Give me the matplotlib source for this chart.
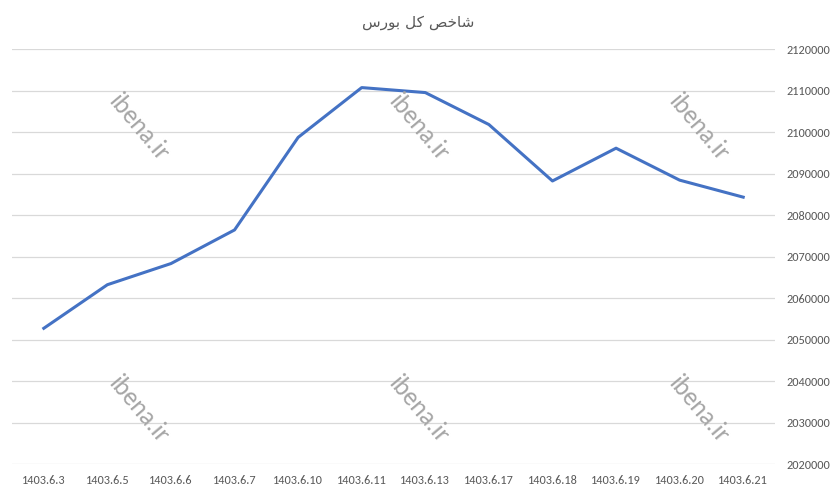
import matplotlib.pyplot as plt
import matplotlib.ticker as mticker

# data
dates = ['1403.6.3', '1403.6.5', '1403.6.6', '1403.6.7', '1403.6.10', '1403.6.11',
         '1403.6.13', '1403.6.17', '1403.6.18', '1403.6.19', '1403.6.20', '1403.6.21']
index_values = [2052700, 2063200, 2068300, 2076400, 2098700, 2110700,
                2109500, 2101800, 2088200, 2096100, 2088400, 2084300]
y_ticks = list(range(2020000, 2120001, 10000))
title = 'شاخص کل بورس'
watermark = 'ibena.ir'

# matplotlib has no arabic shaping, so pick the joined forms by hand
forms = {
    # letter: (isolated, final, initial, medial)
    'ش': ('\uFEB5', '\uFEB6', '\uFEB7', '\uFEB8'),
    'ا': ('\uFE8D', '\uFE8E', None, None),
    'خ': ('\uFEA5', '\uFEA6', '\uFEA7', '\uFEA8'),
    'ص': ('\uFEB9', '\uFEBA', '\uFEBB', '\uFEBC'),
    'ک': ('\uFB8E', '\uFB8F', '\uFB90', '\uFB91'),
    'ل': ('\uFEDD', '\uFEDE', '\uFEDF', '\uFEE0'),
    'ب': ('\uFE8F', '\uFE90', '\uFE91', '\uFE92'),
    'و': ('\uFEED', '\uFEEE', None, None),
    'ر': ('\uFEAD', '\uFEAE', None, None),
    'س': ('\uFEB1', '\uFEB2', '\uFEB3', '\uFEB4'),
}


def shape(text):
    out = []
    for word in text.split(' '):
        chars = []
        for i, ch in enumerate(word):
            f = forms[ch]
            prev_joins = i > 0 and forms[word[i - 1]][2] is not None
            next_joins = i < len(word) - 1 and f[2] is not None
            if prev_joins and next_joins:
                chars.append(f[3])
            elif prev_joins:
                chars.append(f[1])
            elif next_joins:
                chars.append(f[2])
            else:
                chars.append(f[0])
        out.append(''.join(reversed(chars)))
    return ' '.join(reversed(out))


plt.rcParams['font.family'] = ['Carlito', 'DejaVu Sans']

fig = plt.figure(figsize=(8.4, 4.9), dpi=100)
ax = fig.add_axes([12 / 840, 26 / 490, 763 / 840, 415 / 490])

ax.plot(range(len(dates)), index_values, color='#4472C4', linewidth=2.2,
        solid_joinstyle='round', zorder=3)

ax.set_xlim(-0.5, len(dates) - 0.5)
ax.set_ylim(y_ticks[0], y_ticks[-1])
ax.set_xticks(range(len(dates)))
ax.set_xticklabels(dates)
ax.set_yticks(y_ticks)
ax.yaxis.set_major_formatter(mticker.FuncFormatter(lambda v, p: f'{int(v)}'))
ax.yaxis.tick_right()
ax.tick_params(axis='both', length=0, labelsize=8.8, colors='#595959')
ax.tick_params(axis='y', pad=8)
ax.tick_params(axis='x', pad=8)
ax.grid(axis='y', color='#D9D9D9', linewidth=0.9)
for s in ax.spines.values():
    s.set_visible(False)

fig.text(418 / 840, 1 - 22 / 490, shape(title), ha='center', va='center',
         fontsize=11, color='#595959', family=['DejaVu Sans'])

# watermark
for wx in [139, 419, 699]:
    for wy in [128, 410]:
        fig.text(wx / 840, 1 - wy / 490, watermark, ha='center', va='center',
                 rotation=-50, rotation_mode='anchor', fontsize=18.5,
                 color='#A6A6A6')

plt.savefig('out.png', dpi=100)
